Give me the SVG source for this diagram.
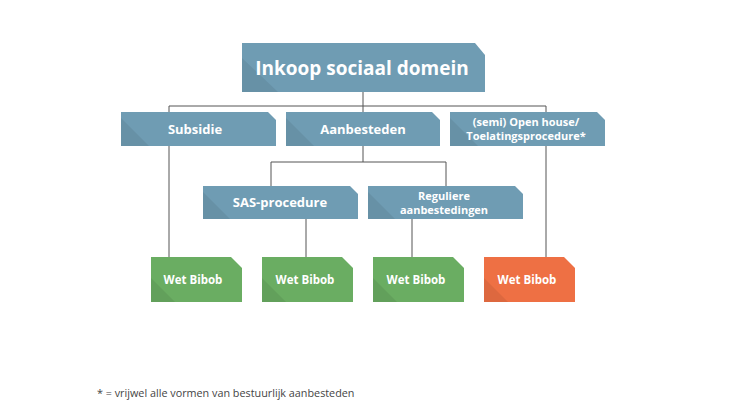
<svg xmlns="http://www.w3.org/2000/svg" width="730" height="410" viewBox="0 0 730 410">
<style>
.blue{fill:#6f9cb3}
.green{fill:#6aad62}
.orange{fill:#ee7044}
.shade{fill:#000;opacity:0.07}
.lbl{font-family:"Open Sans","Liberation Sans",sans-serif;font-weight:bold;fill:#fff;text-anchor:middle}
.con{stroke:#555;stroke-width:1;fill:none}
</style>
<rect width="730" height="410" fill="#fff"/>
<g id="connectors">
<path class="con" d="M363 92V106M169 106H546M169 106V257M546 106V257M363 106V112"/>
<path class="con" d="M363 146V162M271 162H446M271 162V186M446 162V186"/>
<path class="con" d="M306 219V257M412 219V257"/>
</g>
<g id="title">
<path class="blue" d="M242 43H475L485 55V92H242Z"/>
<path class="shade" d="M242 58L278 92H242Z"/>
<text class="lbl" x="362" y="75" font-size="19">Inkoop sociaal domein</text>
</g>
<g id="subsidie">
<path class="blue" d="M121 112H268L276 120V146H121Z"/>
<path class="shade" d="M121 118L149 146H121Z"/>
<text class="lbl" x="195" y="134" font-size="13">Subsidie</text>
</g>
<g id="aanbesteden">
<path class="blue" d="M286 112H432L440 120V146H286Z"/>
<path class="shade" d="M286 118L314 146H286Z"/>
<text class="lbl" x="363" y="134" font-size="13">Aanbesteden</text>
</g>
<g id="openhouse">
<path class="blue" d="M450 112H597L605 120V146H450Z"/>
<path class="shade" d="M450 118L478 146H450Z"/>
<text class="lbl" x="526" y="126" font-size="11">(semi) Open house/</text>
<text class="lbl" x="526" y="140" font-size="11">Toelatingsprocedure*</text>
</g>
<g id="sas">
<path class="blue" d="M203 186H350L358 194V219H203Z"/>
<path class="shade" d="M203 192L230 219H203Z"/>
<text class="lbl" x="280" y="207" font-size="13">SAS-procedure</text>
</g>
<g id="reguliere">
<path class="blue" d="M368 186H515L523 194V219H368Z"/>
<path class="shade" d="M368 192L395 219H368Z"/>
<text class="lbl" x="444" y="200" font-size="11">Reguliere</text>
<text class="lbl" x="444" y="214" font-size="11">aanbestedingen</text>
</g>
<g id="bibob1">
<path class="green" d="M151 257H231L242 268V302H151Z"/>
<path class="shade" d="M151 278L175 302H151Z"/>
<text class="lbl" x="193" y="284" font-size="11.5">Wet Bibob</text>
</g>
<g id="bibob2">
<path class="green" d="M262 257H342L353 268V302H262Z"/>
<path class="shade" d="M262 278L286 302H262Z"/>
<text class="lbl" x="305" y="284" font-size="11.5">Wet Bibob</text>
</g>
<g id="bibob3">
<path class="green" d="M373 257H453L464 268V302H373Z"/>
<path class="shade" d="M373 278L397 302H373Z"/>
<text class="lbl" x="416" y="284" font-size="11.5">Wet Bibob</text>
</g>
<g id="bibob4">
<path class="orange" d="M484 257H564L575 268V302H484Z"/>
<path class="shade" d="M484 278L508 302H484Z"/>
<text class="lbl" x="527" y="284" font-size="11.5">Wet Bibob</text>
</g>
<text x="97" y="397" font-family="'Open Sans','Liberation Sans',sans-serif" font-size="10.8" fill="#444">* = vrijwel alle vormen van bestuurlijk aanbesteden</text>
</svg>
